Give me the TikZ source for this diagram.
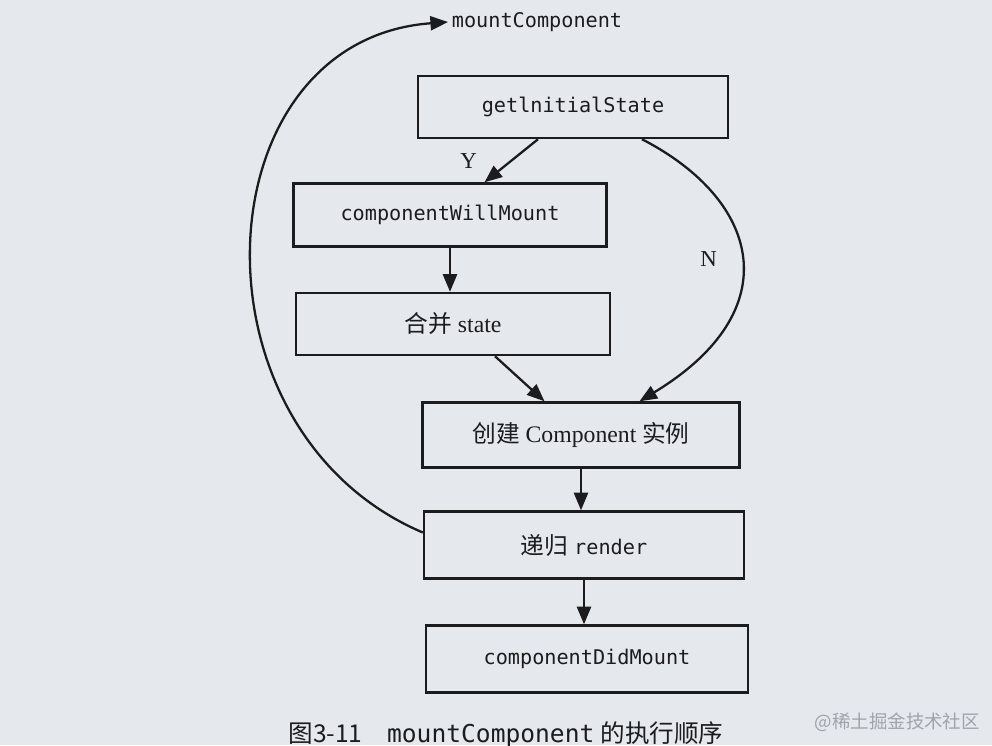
\documentclass[tikz,border=0pt]{standalone}
\usepackage{fontspec}
\setmainfont{Liberation Serif}
\setmonofont{DejaVu Sans Mono}
\newfontfamily\cjk{Noto Sans CJK SC}
\usetikzlibrary{positioning, arrows.meta}
\definecolor{paper}{RGB}{229,232,237}
\definecolor{ink}{RGB}{28,28,30}
\definecolor{mark}{RGB}{160,163,170}

\begin{document}
\begin{tikzpicture}[
    x=0.02cm, y=-0.02cm,
    box/.style={draw=ink, line width=1.4pt, minimum width=6.3cm, minimum height=1.26cm, align=center, text=ink, font=\fontsize{13.5}{16}\selectfont},
    code/.style={font=\fontsize{11.5}{14}\selectfont\ttfamily},
    flow/.style={draw=ink, line width=1.3pt, -{Triangle[length=10pt, width=8pt]}},
    lbl/.style={text=ink, font=\fontsize{13}{15}\selectfont}
]
\fill[paper] (0,0) rectangle (992,745);
\useasboundingbox (0,0) rectangle (992,745);

% boxes
\node[box, code, minimum width=6.2cm, minimum height=1.24cm] (init) at (573,107) {getlnitialState};
\node[box, code, minimum width=6.26cm] (cwm) at (450,215) {componentWillMount};
\node[box, minimum width=6.28cm, minimum height=1.24cm] (merge) at (453,324) {{\cjk 合并} state};
\node[box, minimum width=6.34cm, minimum height=1.3cm] (create) at (581,435) {{\cjk 创建} Component {\cjk 实例}};
\node[box, minimum width=6.4cm, minimum height=1.34cm] (render) at (584,545) {{\cjk 递归} \texttt{\fontsize{11.5}{14}\selectfont render}};
\node[box, code, minimum width=6.44cm, minimum height=1.34cm] (cdm) at (587,659) {componentDidMount};
\node[code, text=ink, anchor=west, inner sep=2pt] (mc) at (448,22) {mountComponent};

% connectors
\draw[flow] ([xshift=-0.7cm]init.south) -- node[lbl, left=0.55cm] {Y} ([xshift=0.69cm]cwm.north);
\draw[flow] ([xshift=1.38cm]init.south) .. controls (760,200) and (790,310) .. node[lbl, left=0.35cm] {N} ([xshift=1.17cm]create.north);
\draw[flow] (cwm.south) -- (cwm.south |- merge.north);
\draw[flow] ([xshift=0.84cm]merge.south) -- ([xshift=-0.73cm]create.north);
\draw[flow] (create.south) -- (create.south |- render.north);
\draw[flow] (render.south) -- (render.south |- cdm.north);
\draw[flow] ([yshift=0.25cm]render.west) .. controls (182,430) and (200,40) .. (mc.west);

% caption
\node[text=ink, font=\fontsize{14}{16}\selectfont] (cap) at (506,735) {{\cjk 图3-11}\quad\texttt{mountComponent} {\cjk 的执行顺序}};
\node[text=mark, font=\cjk\fontsize{10.5}{13}\selectfont, anchor=east] (wm) at (986,722) {@稀土掘金技术社区};
\end{tikzpicture}
\end{document}
